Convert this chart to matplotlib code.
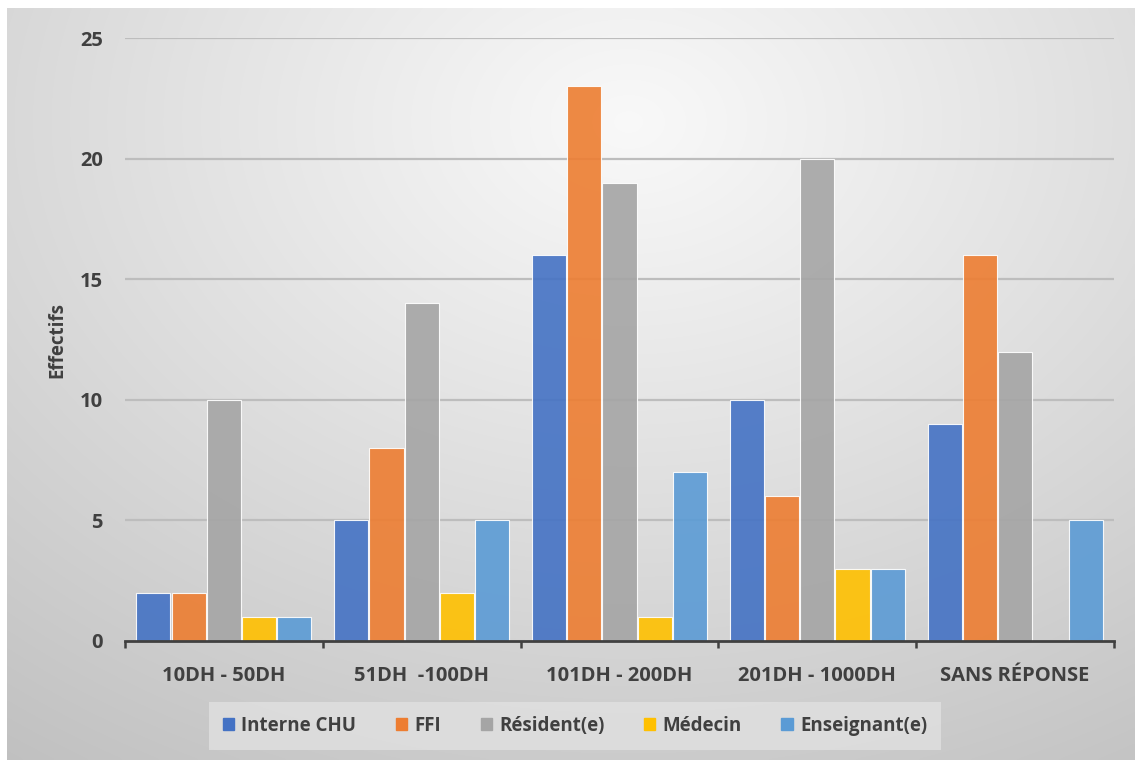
import numpy as np
import matplotlib
matplotlib.use("Agg")
import matplotlib.pyplot as plt
from matplotlib.patches import Rectangle

categories = ["10DH - 50DH", "51DH  -100DH", "101DH - 200DH", "201DH - 1000DH", "SANS RÉPONSE"]
series_names = ["Interne CHU", "FFI", "Résident(e)", "Médecin", "Enseignant(e)"]
interne = [2, 5, 16, 10, 9]
ffi = [2, 8, 23, 6, 16]
resident = [10, 14, 19, 20, 12]
medecin = [1, 2, 1, 3, 0]
enseignant = [1, 5, 7, 3, 5]
yticks = [0, 5, 10, 15, 20, 25]

colors = ["#4472C4", "#ED7D31", "#A5A5A5", "#FFC000", "#5B9BD5"]
values = [interne, ffi, resident, medecin, enseignant]

W, H = 1135, 760
plt.rcParams['font.family'] = ['Open Sans', 'DejaVu Sans']
fig = plt.figure(figsize=(W / 100, H / 100), dpi=100)
fig.patch.set_facecolor("white")

# background gradient panel
bg = fig.add_axes([7 / W, 0, 1 - 7 / W, 1 - 8 / H])
bg.set_axis_off()
ny, nx = 300, 450
yy, xx = np.mgrid[0:ny, 0:nx]
cx, cy = nx * 0.55, ny * 0.15
d = np.sqrt(((xx - cx) / nx) ** 2 + ((yy - cy) / ny * 0.9) ** 2)
d = d / d.max()
val = 0.975 - 0.22 * d ** 1.05
img = np.dstack([val, val, val])
bg.imshow(img, aspect="auto", extent=[0, 1, 0, 1], interpolation="bicubic")
bg.set_xlim(0, 1)
bg.set_ylim(0, 1)

ax = fig.add_axes([125 / W, 1 - 641 / H, (1114 - 125) / W, (641 - 38) / H])
ax.set_facecolor("none")
n = len(categories)
x = np.arange(n)
slot = 0.178
bw = 0.172
for i, (name, vals, col) in enumerate(zip(series_names, values, colors)):
    pos = x + (i - 2) * slot
    ax.bar(pos, vals, width=bw, color=col, alpha=0.9, edgecolor=(1, 1, 1, 0.6),
           linewidth=0.8, zorder=3, label=name)

ax.set_xlim(-0.5, n - 0.5)
ax.set_ylim(0, 25)
ax.set_yticks(yticks)
ax.set_yticklabels([str(t) for t in yticks])
for t in yticks[1:]:
    ax.axhline(t, color="#bdbdbd", linewidth=1.6, zorder=1)
ax.set_xticks(x)
ax.set_xticklabels(categories)
ax.set_xticks(np.arange(n + 1) - 0.5, minor=True)
ax.tick_params(axis="x", which="major", length=0, pad=18, labelsize=14.5, labelcolor="#404040")
ax.tick_params(axis="x", which="minor", length=5, width=1.8, color="#404040", direction="out")
ax.tick_params(axis="y", length=0, pad=16, labelsize=14.5, labelcolor="#404040")
for lab in ax.get_xticklabels() + ax.get_yticklabels():
    lab.set_fontweight("bold")
for s in ["top", "right", "left"]:
    ax.spines[s].set_visible(False)
ax.spines["bottom"].set_color("#404040")
ax.spines["bottom"].set_linewidth(2)
ax.spines["bottom"].set_zorder(4)

fig.text(57 / W, 1 - 340 / H, "Effectifs", rotation=90, ha="center", va="center",
         fontsize=13.5, fontweight="bold", color="#404040")

handles = [Rectangle((0, 0), 1, 1, color=c) for c in colors]
leg = fig.legend(handles, series_names, loc="center", bbox_to_anchor=(575 / W, 1 - 726 / H),
                 ncol=5, frameon=True, fontsize=13.5, handlelength=0.6, handleheight=0.6,
                 handletextpad=0.4, columnspacing=2.1, borderpad=0.75, fancybox=False)
leg.get_frame().set_facecolor("#e2e2e2")
leg.get_frame().set_alpha(0.75)
leg.get_frame().set_edgecolor("none")
for t in leg.get_texts():
    t.set_color("#404040")
    t.set_fontweight("bold")

fig.savefig("out.png", dpi=100)
